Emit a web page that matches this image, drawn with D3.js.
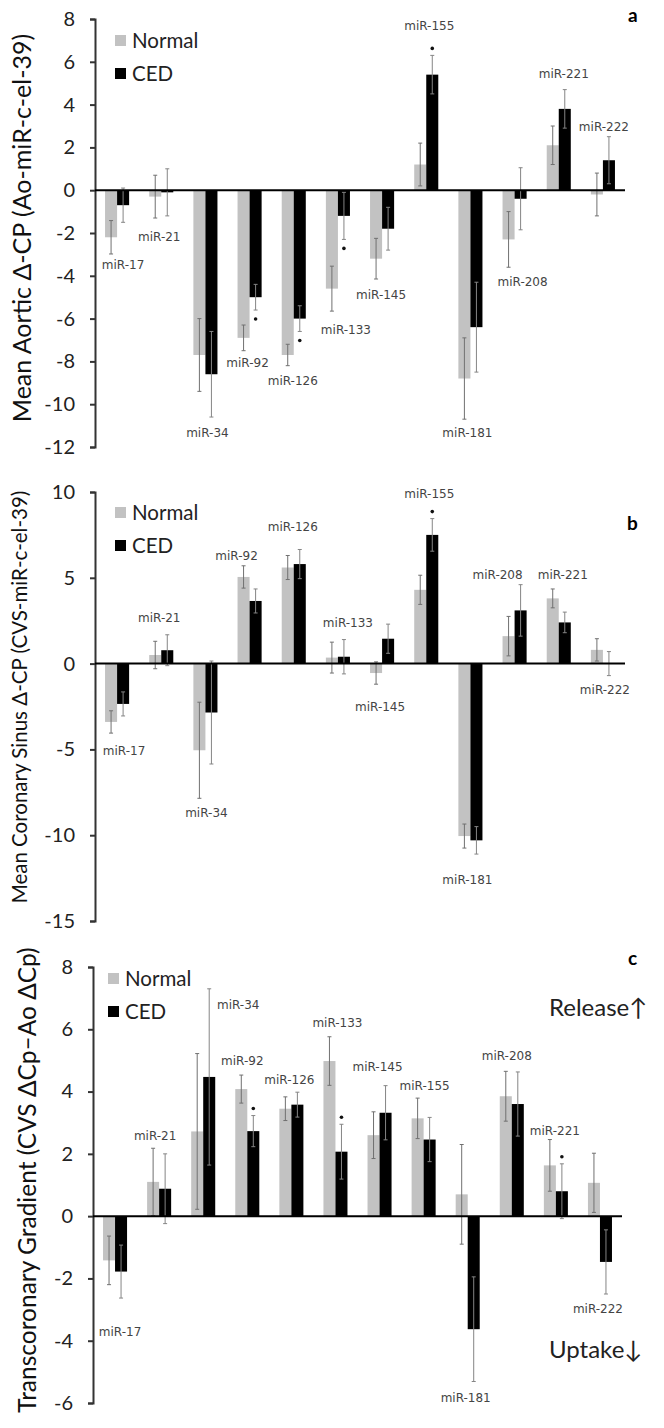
<!DOCTYPE html>
<html>
<head>
<meta charset="utf-8">
<script src="https://cdn.jsdelivr.net/npm/d3@7"></script>
<style>
  html, body { margin: 0; padding: 0; background: #fff; }
  svg { display: block; }
</style>
</head>
<body>
<div id="chart"></div>
<script>
// ---------------- DATA ----------------
const categories = ["miR-17","miR-21","miR-34","miR-92","miR-126","miR-133","miR-145","miR-155","miR-181","miR-208","miR-221","miR-222"];
const seriesNames = ["Normal","CED"];

// Panel a: Mean Aortic Δ-CP
const normalA    = [-2.2, -0.3, -7.7, -6.9, -7.7, -4.6, -3.2, 1.2, -8.8, -2.3, 2.1, -0.2];
const normalAErr = [0.78, 1.0, 1.7, 0.6, 0.5, 1.05, 0.95, 1.0, 1.9, 1.3, 0.9, 1.0];
const cedA       = [-0.7, -0.1, -8.6, -5.0, -6.0, -1.2, -1.8, 5.4, -6.4, -0.4, 3.8, 1.4];
const cedAErr    = [0.8, 1.1, 2.0, 0.6, 0.6, 1.1, 1.0, 0.9, 2.1, 1.45, 0.9, 1.1];
const sigA       = ["miR-92","miR-126","miR-133","miR-155"];
const ticksA     = [-12,-10,-8,-6,-4,-2,0,2,4,6,8];

// Panel b: Mean Coronary Sinus Δ-CP
const normalB    = [-3.4, 0.5, -5.05, 5.05, 5.6, 0.35, -0.55, 4.3, -10.05, 1.6, 3.8, 0.8];
const normalBErr = [0.65, 0.8, 2.8, 0.65, 0.7, 0.9, 0.65, 0.85, 0.7, 1.15, 0.55, 0.65];
const cedB       = [-2.35, 0.78, -2.85, 3.65, 5.8, 0.4, 1.45, 7.5, -10.3, 3.1, 2.4, 0.0];
const cedBErr    = [0.7, 0.9, 3.0, 0.7, 0.85, 1.0, 0.85, 0.95, 0.8, 1.5, 0.6, 0.7];
const sigB       = ["miR-155"];
const ticksB     = [-15,-10,-5,0,5,10];

// Panel c: Transcoronary Gradient
const normalC    = [-1.42, 1.1, 2.72, 4.08, 3.45, 4.98, 2.6, 3.14, 0.7, 3.85, 1.63, 1.07];
const normalCErr = [0.78, 1.08, 2.5, 0.45, 0.38, 0.78, 0.75, 0.65, 1.6, 0.8, 0.83, 0.95];
const cedC       = [-1.78, 0.88, 4.47, 2.73, 3.58, 2.07, 3.32, 2.46, -3.63, 3.6, 0.8, -1.47];
const cedCErr    = [0.85, 1.12, 2.83, 0.5, 0.4, 0.88, 0.87, 0.71, 1.68, 1.03, 0.88, 1.03];
const sigC       = ["miR-92","miR-133","miR-221"];
const ticksC     = [-6,-4,-2,0,2,4,6,8];

// ---------------- LAYOUT ----------------
// category label placement: [dx from group centre (px), vertical value in data units]
const labelLayoutA = [[6,-3.5],[-2,-2.2],[2,-11.35],[-2,-8.05],[-1,-8.9],[8,-6.5],[-1,-4.9],[3,7.7],[-3,-11.35],[8,-4.3],[5,5.45],[1,2.95]];
const labelLayoutB = [[7,-5.1],[-2,2.65],[1,-8.7],[-13,6.3],[-1,8.0],[10,2.4],[-2,-2.5],[3,9.9],[-3,-12.6],[-17,5.2],[4,5.2],[2,-1.5]];
const labelLayoutC = [[5,-3.7],[-4,2.57],[35,6.8],[-5,4.98],[-2,4.37],[2,6.22],[-2,4.78],[1,4.2],[-2,-5.84],[-5,5.15],[-1,2.75],[-2,-2.96]];

const panels = [
  { letter: "a", normal: normalA, normalErr: normalAErr, ced: cedA, cedErr: cedAErr, sig: sigA, ticks: ticksA,
    yDomain: [-12, 8], yRange: [447, 19], xRange: [95, 625],
    title: "Mean Aortic \u0394-CP (Ao-miR-c-el-39)", titleSize: 25, titleX: 22, titleY: 228,
    legend: [115, 35], letterPos: [628, 22], labels: labelLayoutA },
  { letter: "b", normal: normalB, normalErr: normalBErr, ced: cedB, cedErr: cedBErr, sig: sigB, ticks: ticksB,
    yDomain: [-15, 10], yRange: [921, 492], xRange: [95, 625],
    title: "Mean Coronary Sinus  \u0394-CP (CVS-miR-c-el-39)", titleSize: 20.5, titleX: 20, titleY: 697,
    legend: [115, 507], letterPos: [627, 530], labels: labelLayoutB },
  { letter: "c", normal: normalC, normalErr: normalCErr, ced: cedC, cedErr: cedCErr, sig: sigC, ticks: ticksC,
    yDomain: [-6, 8], yRange: [1403, 967], xRange: [93, 622],
    title: "Transcoronary Gradient (CVS \u0394Cp\u2013Ao \u0394Cp)", titleSize: 24.5, titleX: 27, titleY: 1180,
    legend: [108, 973], letterPos: [628, 965], labels: labelLayoutC,
    notes: [["Release\u2191", 549, 1008], ["Uptake\u2193", 549, 1350]] }
];

const colors = { Normal: "#c2c2c2", CED: "#000000" };
const FONT = "Lato, 'Open Sans', sans-serif";
const LABEL_FONT = "'DejaVu Sans', 'Open Sans', sans-serif";

const svg = d3.select("#chart").append("svg")
  .attr("width", 664).attr("height", 1428)
  .style("background", "#fff");

panels.forEach(p => {
  const g = svg.append("g");
  const y = d3.scaleLinear().domain(p.yDomain).range(p.yRange);
  const x0 = d3.scaleBand().domain(categories).range(p.xRange).paddingInner(0.455).paddingOuter(0.2275);
  const x1 = d3.scaleBand().domain(seriesNames).range([0, x0.bandwidth()]);

  // axis
  const axis = d3.axisLeft(y).tickValues(p.ticks).tickSizeInner(5).tickSizeOuter(5).tickPadding(15)
    .tickFormat(d => d < 0 ? "-" + Math.abs(d) : String(d));
  const ag = g.append("g").attr("transform", `translate(${p.xRange[0]},0)`).call(axis);
  ag.select(".domain").attr("stroke", "#333").attr("stroke-width", 2);
  ag.selectAll(".tick line").attr("stroke", "#333").attr("stroke-width", 2);
  ag.selectAll(".tick text").attr("font-family", FONT).attr("font-size", 20).attr("fill", "#222");

  // bars
  const rows = categories.map((c, i) => ({
    cat: c, i,
    vals: [
      { s: "Normal", v: p.normal[i], e: p.normalErr[i] },
      { s: "CED", v: p.ced[i], e: p.cedErr[i] }
    ]
  }));
  const grp = g.selectAll(".grp").data(rows).enter().append("g")
    .attr("transform", d => `translate(${x0(d.cat)},0)`);
  grp.selectAll("rect").data(d => d.vals).enter().append("rect")
    .attr("x", d => x1(d.s))
    .attr("width", x1.bandwidth())
    .attr("y", d => y(Math.max(0, d.v)))
    .attr("height", d => Math.abs(y(d.v) - y(0)))
    .attr("fill", d => colors[d.s]);

  // error bars
  const eb = grp.selectAll(".eb").data(d => d.vals).enter().append("g")
    .attr("stroke", d => d.s === "Normal" ? "#707070" : "#858585").attr("stroke-width", 1);
  eb.append("line")
    .attr("x1", d => x1(d.s) + x1.bandwidth() / 2).attr("x2", d => x1(d.s) + x1.bandwidth() / 2)
    .attr("y1", d => y(d.v + d.e)).attr("y2", d => y(d.v - d.e));
  [1, -1].forEach(sgn => {
    eb.append("line")
      .attr("x1", d => x1(d.s) + x1.bandwidth() / 2 - 2).attr("x2", d => x1(d.s) + x1.bandwidth() / 2 + 2)
      .attr("y1", d => y(d.v + sgn * d.e)).attr("y2", d => y(d.v + sgn * d.e));
  });

  // zero line
  g.append("line").attr("x1", p.xRange[0]).attr("x2", p.xRange[1])
    .attr("y1", y(0)).attr("y2", y(0)).attr("stroke", "#000").attr("stroke-width", 2);

  // significance marks
  rows.filter(r => p.sig.includes(r.cat)).forEach(r => {
    const d = r.vals[1];
    const end = d.v >= 0 ? d.v + d.e : d.v - d.e;
    const yy = y(end) + (d.v >= 0 ? -7 : 9);
    g.append("circle").attr("cx", x0(r.cat) + x1("CED") + x1.bandwidth() / 2)
      .attr("cy", yy).attr("r", 1.8).attr("fill", "#111");
  });

  // category labels
  g.selectAll(".cl").data(rows).enter().append("text")
    .attr("x", d => x0(d.cat) + x0.bandwidth() / 2 + p.labels[d.i][0])
    .attr("y", d => y(p.labels[d.i][1]))
    .attr("dy", "0.35em")
    .attr("text-anchor", "middle")
    .attr("font-family", LABEL_FONT).attr("font-size", 12).attr("fill", "#444")
    .text(d => d.cat);

  // legend
  const lg = g.append("g").attr("transform", `translate(${p.legend[0]},${p.legend[1]})`);
  seriesNames.forEach((s, k) => {
    lg.append("rect").attr("x", 0).attr("y", k * 33).attr("width", 11).attr("height", 11).attr("fill", colors[s]);
    lg.append("text").attr("x", 17).attr("y", k * 33 + 5.5).attr("dy", "0.36em")
      .attr("font-family", FONT).attr("font-size", 20.5).attr("fill", "#222").text(s);
  });

  // axis title
  g.append("text")
    .attr("transform", `translate(${p.titleX},${p.titleY}) rotate(-90)`)
    .attr("text-anchor", "middle").attr("dy", "0.35em")
    .attr("font-family", FONT).attr("font-size", p.titleSize).attr("fill", "#111")
    .text(p.title);

  // panel letter
  g.append("text").attr("x", p.letterPos[0]).attr("y", p.letterPos[1])
    .attr("font-family", FONT).attr("font-weight", "bold").attr("font-size", 19).attr("fill", "#000")
    .text(p.letter);

  if (p.notes) {
    p.notes.forEach(n => {
      g.append("text").attr("x", n[1]).attr("y", n[2]).attr("dy", "0.35em")
        .attr("font-family", FONT).attr("font-size", 24).attr("fill", "#222").text(n[0]);
    });
  }
});
</script>
</body>
</html>
